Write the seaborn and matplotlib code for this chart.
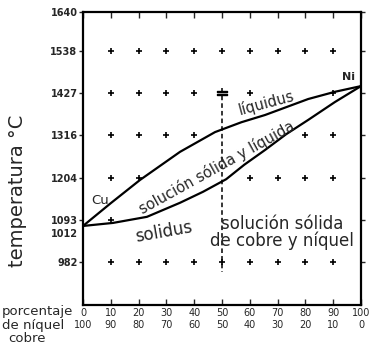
import matplotlib
matplotlib.use('Agg')
import matplotlib.pyplot as plt
import matplotlib.transforms as mtransforms
import pandas as pd
import seaborn as sns

# diagrama de fases cobre - niquel
ni_pct_liq = [0, 10, 20.5, 34.9, 47.5, 57, 65.5, 74, 81, 90.6, 100]
temp_liq = [1077, 1137, 1198, 1272, 1324, 1350, 1369, 1392, 1411, 1430, 1445]
ni_pct_sol = [0, 10.8, 23, 34.9, 43.2, 51.5, 58, 65.5, 73, 81, 90.6, 100]
temp_sol = [1077, 1085, 1101, 1138, 1167, 1200, 1238, 1277, 1318, 1356, 1403, 1445]

ni_ticks = [0, 10, 20, 30, 40, 50, 60, 70, 80, 90, 100]
cu_ticks = [100, 90, 80, 70, 60, 50, 40, 30, 20, 10, 0]
temp_ticks = [1640, 1538, 1427, 1316, 1204, 1093, 1012, 982]

# puntos "+" de la cuadricula que se ven en el dibujo
grid_x = ([10, 20, 30, 40, 50, 60, 70, 80, 90] +
          [10, 20, 30, 40, 60, 90] +
          [10, 20, 30, 40, 80, 90] +
          [10, 20, 60, 70, 80, 90] +
          [10] +
          [10, 20, 30, 40, 50, 60, 70, 80, 90])
grid_t = ([1538] * 9 + [1427] * 6 + [1316] * 6 + [1204] * 6 + [1093] +
          [982] * 9)

liq = pd.DataFrame({'ni': ni_pct_liq, 't': temp_liq})
sol = pd.DataFrame({'ni': ni_pct_sol, 't': temp_sol})
pts = pd.DataFrame({'ni': grid_x, 't': grid_t})

sns.set_style('white')
plt.rcParams['font.family'] = ['DejaVu Sans']

fig = plt.figure(figsize=(3.7, 3.48), dpi=100)
ax = fig.add_axes([83 / 370, 1 - 305 / 348, 278 / 370, 293 / 348])

sns.lineplot(data=liq, x='ni', y='t', color='black', lw=1.6, ax=ax, sort=False)
sns.lineplot(data=sol, x='ni', y='t', color='black', lw=1.6, ax=ax, sort=False)
sns.scatterplot(data=pts, x='ni', y='t', marker='+', color='black', s=22,
                linewidth=1.2, ax=ax)

ax.plot([50, 50], [1440, 955], color='black', lw=1.1, ls=(0, (3, 2)))
ax.plot(50, 1427, marker='$=$', color='black', ms=7)

ax.set_xlim(0, 100)
ax.set_ylim(869, 1640)
for s in ax.spines.values():
    s.set_linewidth(1.6)
    s.set_color('black')

ax.set_xticks(ni_ticks)
ax.set_xticklabels([f'{a}\n{b}' for a, b in zip(ni_ticks, cu_ticks)],
                   fontsize=7, linespacing=1.25)
ax.set_yticks(temp_ticks)
ax.set_yticklabels([str(t) for t in temp_ticks], fontsize=7,
                   fontweight='bold')
ax.tick_params(axis='x', direction='in', length=4, width=1, top=True,
               bottom=True, pad=2)
ax.tick_params(axis='y', direction='out', length=3, width=1, left=True,
               pad=1)
ax.tick_params(axis='y', which='both', right=True)
# el 1012 esta apretado encima del 982 en el dibujo
t1012 = ax.yaxis.get_major_ticks()[6]
t1012.tick1line.set_visible(False)
t1012.tick2line.set_visible(False)
lab = ax.get_yticklabels()[6]
lab.set_transform(lab.get_transform() +
                  mtransforms.ScaledTranslation(0, 18 / 100, fig.dpi_scale_trans))

ax.set_xlabel('')
ax.set_ylabel('temperatura °C', fontsize=14)
ax.yaxis.set_label_coords(-0.2, 0.39)

ax.text(3, 1135, 'Cu', fontsize=9.5)
ax.text(93, 1462, 'Ni', fontsize=8, fontweight='bold')
ax.text(66, 1402, 'líquidus', fontsize=10.5, rotation=15,
        ha='center', va='center')
ax.text(48, 1231, 'solución sólida y líquida', fontsize=10.5, rotation=29,
        ha='center', va='center')
ax.text(29, 1060, 'solidus', fontsize=12, rotation=10,
        ha='center', va='center')
ax.text(71.5, 1060, 'solución sólida\nde cobre y níquel', fontsize=12,
        ha='center', va='center', linespacing=0.95)

fig.text(2 / 370, 1 - 312 / 348, 'porcentaje', fontsize=9.5, va='center')
fig.text(2 / 370, 1 - 325 / 348, 'de níquel', fontsize=9.5, va='center')
fig.text(8 / 370, 1 - 338 / 348, 'cobre', fontsize=9.5, va='center')

fig.savefig('out.png', dpi=100)
